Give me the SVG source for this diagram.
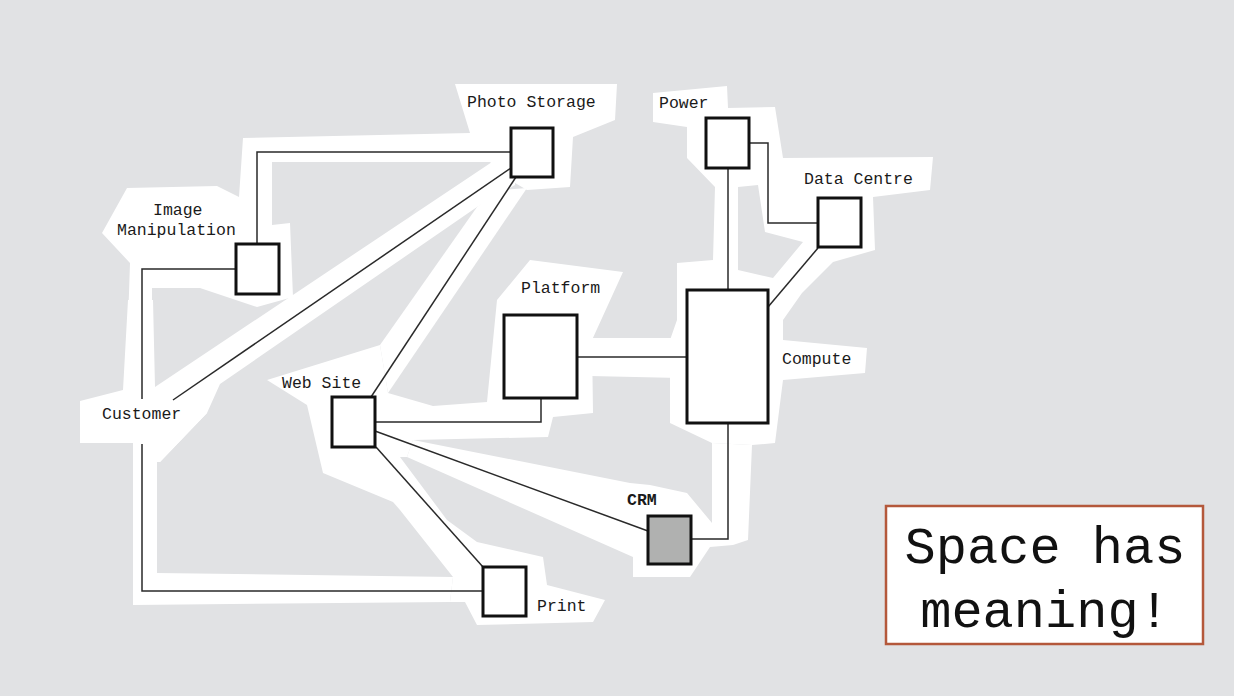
<svg xmlns="http://www.w3.org/2000/svg" width="1234" height="696" viewBox="0 0 1234 696">
<style>
.bg{fill:#e1e2e4}
.w{fill:#ffffff}
.hole{fill:#e1e2e4}
.box{fill:#ffffff;stroke:#111;stroke-width:3}
.crm{fill:#b0b1b0}
.lbl{font-family:"Liberation Mono","Courier New",monospace;font-size:16.5px;fill:#1a1a1a}
.bold{font-weight:bold}
.conn{fill:none;stroke:#2a2a2a;stroke-width:1.5}
.note{font-family:"Liberation Mono","Courier New",monospace;font-size:52px;fill:#111;text-anchor:middle}
</style>
<rect class="bg" x="0" y="0" width="1234" height="696"/>
<g id="spaces">
<polygon class="w" points="243,138 470,133 455,84 617,84 615,120 573,137 570,187 527,190 510,180 490,162 272,162 272,225 290,223 293,297 257,307 200,288 152,288 152,322 128,322 130,263 102,233 127,188 217,186 239,197"/>
<polygon class="w" points="150,390 155,387 495,160 515,162 515,185 477,207 220,384 207,413 160,462 150,440"/>
<polygon class="w" points="477,207 500,190 527,188 388,393 380,345"/>
<polygon class="w" points="128,300 153,300 155,387 207,413 160,462 157,462 157,573 453,577 450,602 133,605 133,443 80,443 80,401 123,390"/>
<polygon class="w" points="400,510 400,457 447,520 477,542 543,557 547,585 605,600 593,622 477,625 465,602 450,602 453,577"/>
<polygon class="w" points="380,345 388,393 433,406 413,440 407,457 400,457 400,510 393,502 323,473 307,405 267,380"/>
<polygon class="w" points="497,300 530,260 623,272 592,340 593,413 553,417 548,437 413,440 380,440 380,404 433,406 487,402"/>
<polygon class="w" points="590,338 680,338 680,378 590,376"/>
<polygon class="w" points="407,457 413,440 630,483 650,485 687,493 712,523 712,443 752,445 748,540 733,545 710,547 690,577 633,577 633,557"/>
<polygon class="w" points="653,93 727,86 728,108 775,107 783,158 933,157 930,190 873,197 875,250 833,262 802,293 783,320 783,340 867,348 865,373 783,380 775,443 752,445 712,443 670,423 670,340 677,320 677,263 713,260 715,187 687,158 687,127 653,122"/>
<polygon class="hole" points="738,187 758,185 765,232 803,242 773,278 738,270"/>
</g>
<g id="connectors">
<path class="conn" d="M257,244 V152 H511"/>
<path class="conn" d="M236,269 H142 V399"/>
<path class="conn" d="M173,400 L511,168"/>
<path class="conn" d="M142,444 V591 H483"/>
<path class="conn" d="M371,397 L516,177"/>
<path class="conn" d="M375,422 H541 V398"/>
<path class="conn" d="M375,431 L648,531"/>
<path class="conn" d="M376,447 L483,567"/>
<path class="conn" d="M577,357 H687"/>
<path class="conn" d="M728,168 V290"/>
<path class="conn" d="M749,143 H768 V223 H818"/>
<path class="conn" d="M818,248 L768,307"/>
<path class="conn" d="M728,423 V539 H691"/>
</g>
<g id="photo-storage"><rect class="box" x="511" y="128" width="42" height="49"/><text class="lbl" x="467" y="107">Photo Storage</text></g>
<g id="power"><rect class="box" x="706" y="118" width="43" height="50"/><text class="lbl" x="659" y="108">Power</text></g>
<g id="data-centre"><rect class="box" x="818" y="198" width="43" height="49"/><text class="lbl" x="804" y="184">Data Centre</text></g>
<g id="compute"><rect class="box" x="687" y="290" width="81" height="133"/><text class="lbl" x="782" y="364">Compute</text></g>
<g id="platform"><rect class="box" x="504" y="315" width="73" height="83"/><text class="lbl" x="521" y="293">Platform</text></g>
<g id="crm"><rect class="box crm" x="648" y="516" width="43" height="48"/><text class="lbl bold" x="627" y="505">CRM</text></g>
<g id="image-manipulation"><rect class="box" x="236" y="244" width="43" height="50"/><text class="lbl" x="153" y="215">Image</text><text class="lbl" x="117" y="235">Manipulation</text></g>
<g id="web-site"><rect class="box" x="332" y="397" width="43" height="50"/><text class="lbl" x="282" y="388">Web Site</text></g>
<g id="customer"><text class="lbl" x="102" y="419">Customer</text></g>
<g id="print"><rect class="box" x="483" y="567" width="43" height="49"/><text class="lbl" x="537" y="611">Print</text></g>
<g id="note"><rect x="886" y="506" width="317" height="138" fill="#ffffff" stroke="#b4583b" stroke-width="2.5"/><text class="note" x="1045" y="563">Space has</text><text class="note" x="1045" y="627">meaning!</text></g>
</svg>
